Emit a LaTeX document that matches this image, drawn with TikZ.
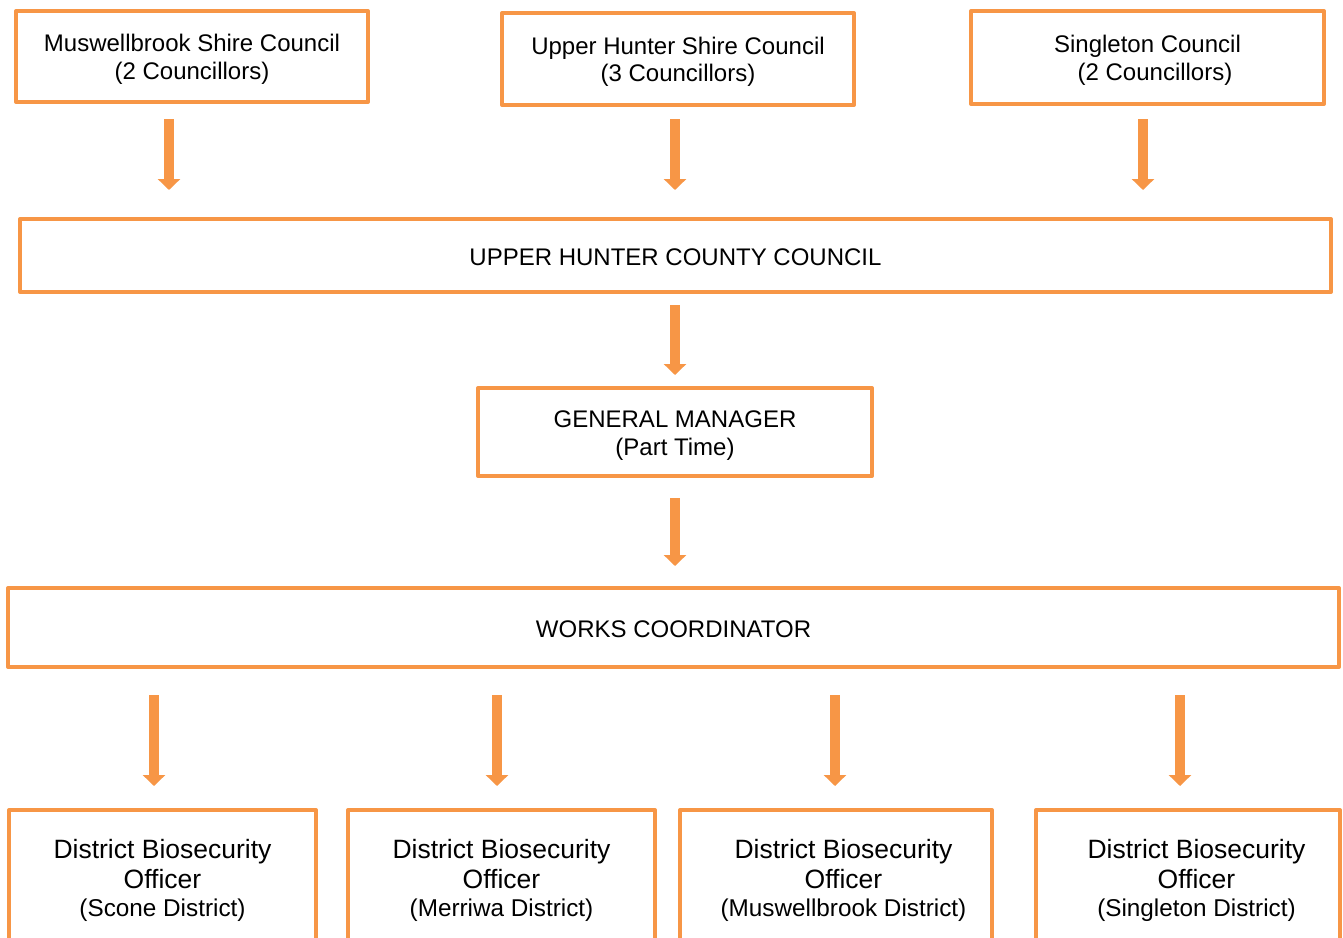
\documentclass[tikz,border=0pt]{standalone}
\usepackage{fontspec}
\setmainfont{Liberation Sans}
\usepackage{tikz}
\usetikzlibrary{arrows.meta,positioning,calc}
\definecolor{uhorange}{HTML}{F79646}
\tikzset{
  orgbox/.style={
    draw=uhorange,
    line width=4pt,
    line join=round,
    align=center,
    inner sep=0pt,
    font=\fontsize{24}{27.5}\selectfont
  },
  dbobox/.style={
    orgbox,
    minimum height=140pt,
    font=\fontsize{26.5}{30}\selectfont
  },
  orgarrow/.style={-{Triangle[width=22pt,length=11pt]},uhorange,line width=10pt}
}
% strut that pushes the text of a box down a little
\newcommand{\topstrut}[1]{\rule{0pt}{#1}}
% text of a district officer box, #1 = shift to the right
\newcommand{\dbotext}[2]{\hspace*{#1}District Biosecurity\\\hspace*{#1}Officer\\[-2pt]
  {\fontsize{24.3}{29}\selectfont\hspace*{#1}(#2 District)}}

\begin{document}
\begin{tikzpicture}[x=1pt,y=-1pt]
      \useasboundingbox (0,0) rectangle (1343,937);
      \clip (0,0) rectangle (1343,937);
      % member councils
      \node[orgbox,minimum width=352pt,minimum height=91pt] (msc) at (192,56.5)
        {\topstrut{22.5pt}Muswellbrook Shire Council\\(2 Councillors)};
      \node[orgbox,minimum width=352pt,minimum height=92pt] (uhsc) at (678,59)
        {\topstrut{22.5pt}Upper Hunter Shire Council\\(3 Councillors)};
      \node[orgbox,minimum width=353pt,minimum height=93pt] (sgc) at (1147.5,57.5)
        {\topstrut{22.5pt}Singleton Council\\\hspace*{15pt}(2 Councillors)};
      % county council and staff
      \node[orgbox,minimum width=1311pt,minimum height=73pt] (uhcc) at (675.5,255.5)
        {\topstrut{19.5pt}UPPER HUNTER COUNTY COUNCIL};
      \node[orgbox,minimum width=394pt,minimum height=88pt] (gm) at (675,432)
        {\topstrut{23.5pt}GENERAL MANAGER\\(Part Time)};
      \node[orgbox,minimum width=1331pt,minimum height=79pt] (wc) at (673.5,627.5)
        {\topstrut{19.5pt}WORKS COORDINATOR};
      \node[dbobox,minimum width=307pt] (dbscone) at (162.5,880)
        {\dbotext{0pt}{Scone}};
      \node[dbobox,minimum width=307pt] (dbmerriwa) at (501.5,880)
        {\dbotext{0pt}{Merriwa}};
      \node[dbobox,minimum width=312pt] (dbmuswell) at (836,880)
        {\dbotext{15pt}{Muswellbrook}};
      \node[dbobox,minimum width=304pt] (dbsingle) at (1188,880)
        {\dbotext{17pt}{Singleton}};
      % arrows
      \draw[orgarrow,shorten <=15pt,shorten >=27pt] ([xshift=-23pt]msc.south) --
        ([xshift=-23pt]msc.south |- uhcc.north);
      \draw[orgarrow,shorten <=12pt,shorten >=27pt] ([xshift=-3pt]uhsc.south) --
        ([xshift=-3pt]uhsc.south |- uhcc.north);
      \draw[orgarrow,shorten <=13pt,shorten >=27pt] ([xshift=-4.5pt]sgc.south) --
        ([xshift=-4.5pt]sgc.south |- uhcc.north);
      \draw[orgarrow,shorten <=11pt,shorten >=11pt] (uhcc.south -| gm.north) -- (gm.north);
      \draw[orgarrow,shorten <=20pt,shorten >=20pt] (gm.south) -- (gm.south |- wc.north);
      \draw[orgarrow,shorten <=26pt,shorten >=22pt] ([xshift=-8.5pt]dbscone.north |- wc.south) --
        ([xshift=-8.5pt]dbscone.north);
      \draw[orgarrow,shorten <=26pt,shorten >=22pt] ([xshift=-4.5pt]dbmerriwa.north |- wc.south) --
        ([xshift=-4.5pt]dbmerriwa.north);
      \draw[orgarrow,shorten <=26pt,shorten >=22pt] ([xshift=-1pt]dbmuswell.north |- wc.south) --
        ([xshift=-1pt]dbmuswell.north);
      \draw[orgarrow,shorten <=26pt,shorten >=22pt] ([xshift=-8pt]dbsingle.north |- wc.south) --
        ([xshift=-8pt]dbsingle.north);
    \end{tikzpicture}
\end{document}
